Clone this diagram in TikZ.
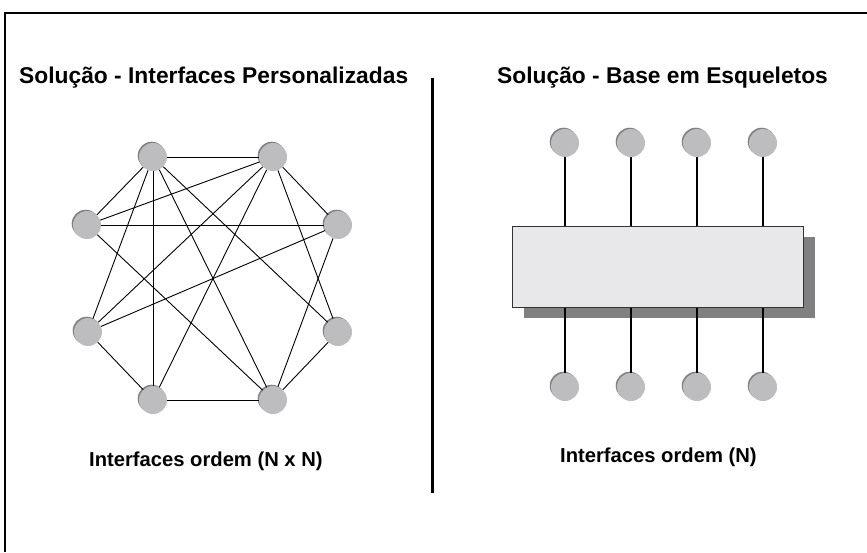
\documentclass[tikz,border=0pt]{standalone}
\usepackage{fontspec}
\setmainfont{Liberation Sans}
\usepackage{tikz}
\usetikzlibrary{shadows}

\definecolor{knotgray}{HTML}{BDBDBF}
\definecolor{knotrim}{HTML}{828284}
\definecolor{basefill}{HTML}{E8E8EA}
\definecolor{baseshadow}{HTML}{808080}
\definecolor{baseline}{HTML}{333333}

\tikzset{
	knot/.style={circle, inner sep=0pt, minimum size=28pt, fill=knotgray,
		drop shadow={shadow xshift=-1.3pt, shadow yshift=1.3pt, fill=knotrim, opacity=1}},
	heading/.style={anchor=base west, inner sep=0pt, font=\fontsize{22.8}{27}\selectfont\bfseries},
	subline/.style={anchor=base west, inner sep=0pt, font=\fontsize{20.2}{24}\selectfont\bfseries},
}

\begin{document}
\begin{tikzpicture}[x=1pt, y=-1pt]
	\useasboundingbox (0,0) rectangle (867,552);
	% frame and divider
	\draw[line width=2pt] (5,552) -- (5,13) -- (867,13);
	\draw[line width=3pt] (432,78) -- (432,493);

	% left: custom interfaces
	\node[heading] (lefttitle) at (19,83) {Solução - Interfaces Personalizadas};
	\node[knot] (1) at (153,157) {};
	\node[knot] (2) at (273,157) {};
	\node[knot] (3) at (87,225)  {};
	\node[knot] (4) at (338,225) {};
	\node[knot] (5) at (88,332)  {};
	\node[knot] (6) at (338,332) {};
	\node[knot] (7) at (153,400) {};
	\node[knot] (8) at (273,400) {};
	\draw[line width=0.9pt]
		(1) edge (2) edge (3) edge (5) edge (6) edge (7) edge (8)
		(2) edge (3) edge (4) edge (5) edge (6) edge (7)
		(3) edge (4) edge (8)
		(4) edge (5) edge (8)
		(5) edge (7)
		(6) edge (8)
		(7) edge (8);
	\node[subline] (leftnote) at (89,466) {Interfaces ordem (N x N)};

	% right: skeleton base
	\node[heading] (righttitle) at (497,83) {Solução - Base em Esqueletos};
	\node[draw=baseline, line width=1pt, fill=basefill, inner sep=0pt,
		minimum width=291pt, minimum height=81pt,
		drop shadow={shadow xshift=11.5pt, shadow yshift=-10.5pt, fill=baseshadow, opacity=1}]
		(base) at (657.5,266.5) {};
	\node[knot] (t1) at (565,143) {};
	\node[knot] (t2) at (631,143) {};
	\node[knot] (t3) at (697,143) {};
	\node[knot] (t4) at (763,143) {};
	\node[knot] (b1) at (565,387) {};
	\node[knot] (b2) at (631,387) {};
	\node[knot] (b3) at (697,387) {};
	\node[knot] (b4) at (763,387) {};
	\draw[line width=1.3pt, baseline]
		(t1) -- (t1 |- base.north) (t2) -- (t2 |- base.north)
		(t3) -- (t3 |- base.north) (t4) -- (t4 |- base.north)
		(b1) -- (b1 |- base.south) (b2) -- (b2 |- base.south)
		(b3) -- (b3 |- base.south) (b4) -- (b4 |- base.south);
	\node[subline] (rightnote) at (560,462) {Interfaces ordem (N)};
\end{tikzpicture}
\end{document}
